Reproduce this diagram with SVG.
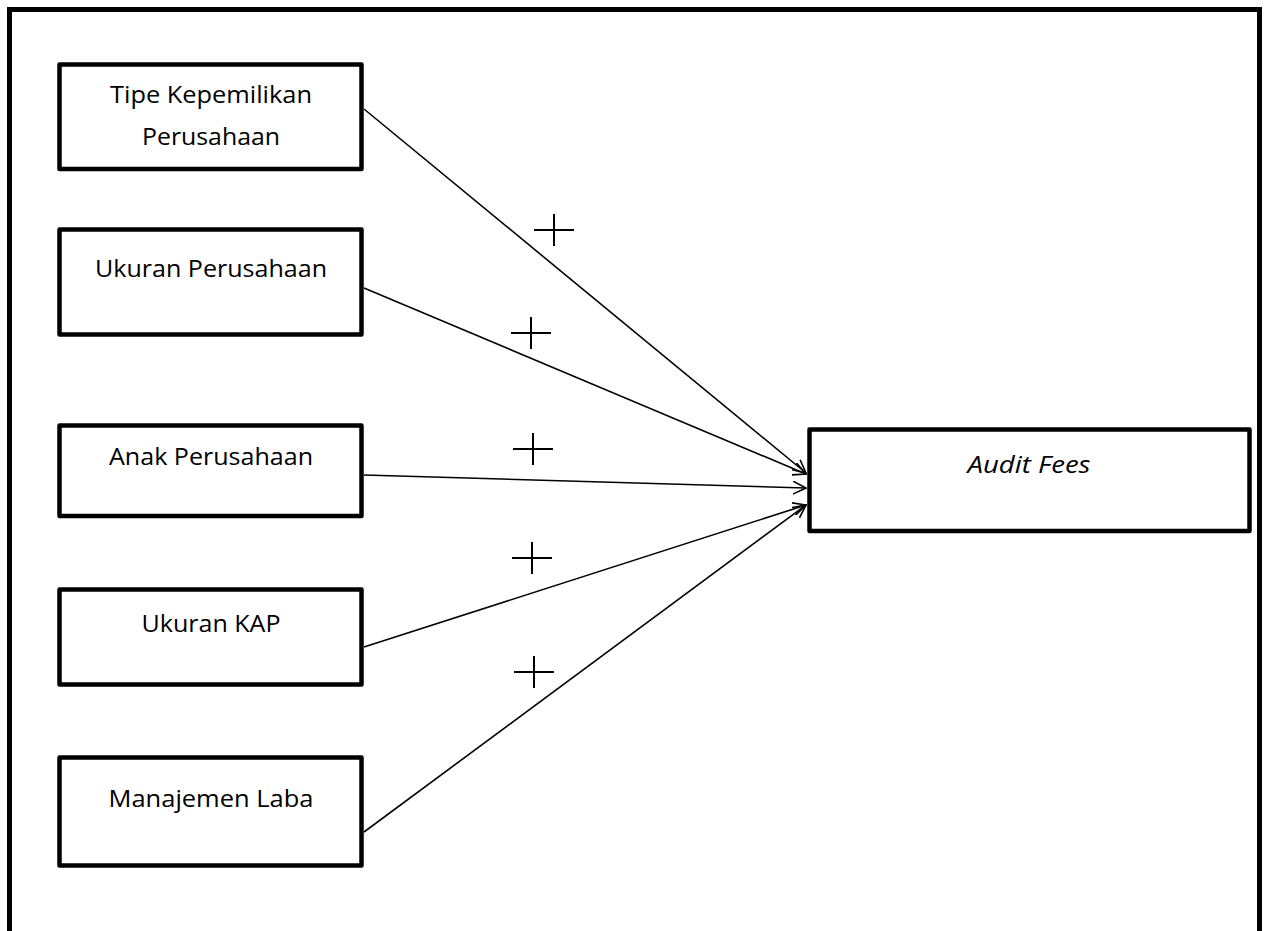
<svg xmlns="http://www.w3.org/2000/svg" width="1264" height="931" viewBox="0 0 1264 931">
<style>
.box{fill:#fff;stroke:#000;stroke-width:4.5;stroke-linejoin:round}
.frame{fill:none;stroke:#000;stroke-width:5}
.lbl{font-family:"Open Sans","Noto Sans","Liberation Sans",sans-serif;font-size:24px;fill:#000;text-anchor:middle}
.it{font-style:italic}
.conn{stroke:#000;stroke-width:1.6;fill:none;marker-end:url(#arr)}
.plus{stroke:#000;stroke-width:2;fill:none}
</style>
<defs>
<marker id="arr" viewBox="0 0 14 14" refX="13" refY="7" markerWidth="14" markerHeight="14" markerUnits="userSpaceOnUse" orient="auto">
<path d="M0,0.5 L13,7 L0,13.5" fill="none" stroke="#000" stroke-width="1.6"/>
</marker>
<path id="pl" d="M-20,0 H20 M0,-16 V16"/>
</defs>
<rect width="1264" height="931" fill="#fff"/>
<path class="frame" d="M9.5,940 V9.5 H1259.5 V940"/>

<g id="connectors">
<line class="conn" x1="364" y1="109" x2="806" y2="473"/>
<line class="conn" x1="364" y1="288" x2="806" y2="474"/>
<line class="conn" x1="364" y1="475" x2="806" y2="488"/>
<line class="conn" x1="364" y1="647" x2="806" y2="505"/>
<line class="conn" x1="364" y1="832" x2="806" y2="505"/>
</g>

<g id="signs" class="plus">
<use href="#pl" x="554" y="230"/>
<use href="#pl" x="531" y="333"/>
<use href="#pl" x="533" y="449"/>
<use href="#pl" x="532" y="558"/>
<use href="#pl" x="534" y="672"/>
</g>

<g id="n1">
<rect class="box" x="59.5" y="64.5" width="302" height="104.5"/>
<text class="lbl" x="211" y="103" textLength="202" lengthAdjust="spacingAndGlyphs">Tipe Kepemilikan</text>
<text class="lbl" x="211" y="145" textLength="138" lengthAdjust="spacingAndGlyphs">Perusahaan</text>
</g>
<g id="n2">
<rect class="box" x="59.5" y="229.5" width="302" height="105"/>
<text class="lbl" x="211" y="277" textLength="232" lengthAdjust="spacingAndGlyphs">Ukuran Perusahaan</text>
</g>
<g id="n3">
<rect class="box" x="59.5" y="425.5" width="302" height="90.5"/>
<text class="lbl" x="211" y="465" textLength="204" lengthAdjust="spacingAndGlyphs">Anak Perusahaan</text>
</g>
<g id="n4">
<rect class="box" x="59.5" y="589.5" width="302" height="95"/>
<text class="lbl" x="211" y="632" textLength="139" lengthAdjust="spacingAndGlyphs">Ukuran KAP</text>
</g>
<g id="n5">
<rect class="box" x="59.5" y="757.5" width="302" height="108"/>
<text class="lbl" x="211" y="807" textLength="205" lengthAdjust="spacingAndGlyphs">Manajemen Laba</text>
</g>
<g id="n6">
<rect class="box" x="809.5" y="429.5" width="440" height="101.5"/>
<text class="lbl it" x="1029" y="473" textLength="123" lengthAdjust="spacingAndGlyphs">Audit Fees</text>
</g>
</svg>
